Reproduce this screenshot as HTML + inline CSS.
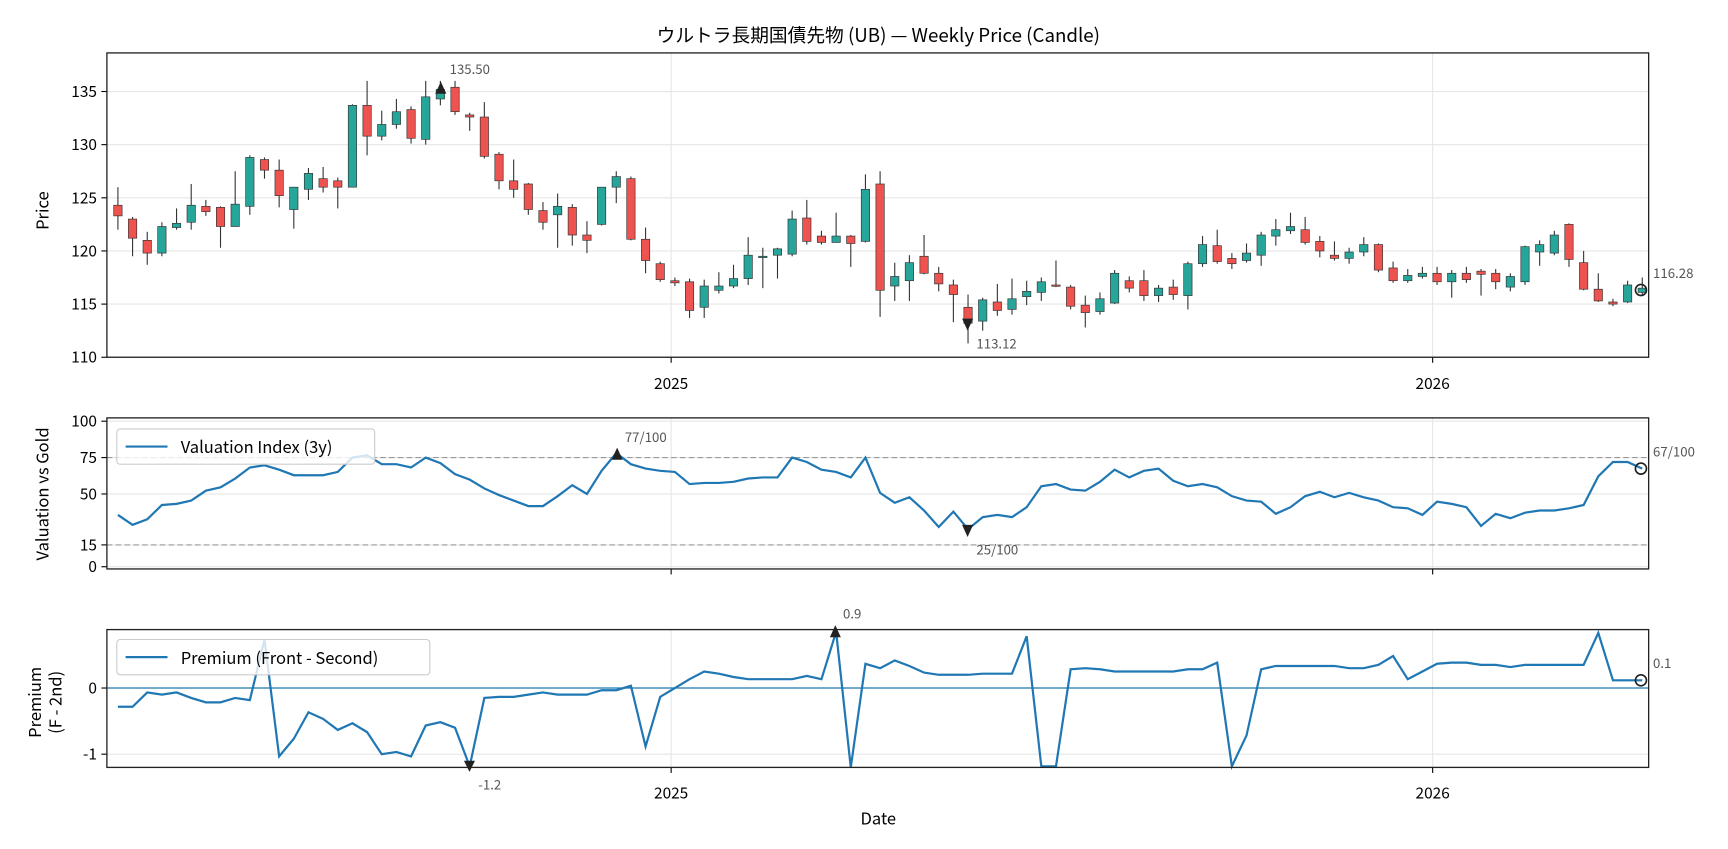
<!DOCTYPE html>
<html><head><meta charset="utf-8"><style>
html,body{margin:0;padding:0;background:#fff}
svg{display:block}
text{font-family:"Noto Sans CJK JP","IPAGothic",sans-serif}
</style></head><body>
<svg id="c" width="1728" height="849" viewBox="0 0 1568 770" preserveAspectRatio="none" xmlns="http://www.w3.org/2000/svg"></svg>
<script>
const S=document.getElementById('c');let h='';
const F='';
function X(i){return 107+13.3*i;}
const P1={x0:97,x1:1496,y0:48,y1:324},P2={y0:379,y1:516},P3={y0:571,y1:696};
function py(p){return 324-(p-110)*9.64;}
function vy(v){return 514-v*1.32;}
[110,115,120,125,130,135].forEach(v=>{h+=`<line x1="97" x2="1496" y1="${py(v)}" y2="${py(v)}" stroke="#e6e6e6"/>`;h+=`<line x1="92" x2="97" y1="${py(v)}" y2="${py(v)}" stroke="#000"/><text x="88" y="${py(v)+5}" font-size="14" text-anchor="end" ${F}>${v}</text>`;});
[0,15,50,75,100].forEach(v=>{h+=`<line x1="97" x2="1496" y1="${vy(v)}" y2="${vy(v)}" stroke="#e6e6e6"/><line x1="92" x2="97" y1="${vy(v)}" y2="${vy(v)}" stroke="#000"/><text x="88" y="${vy(v)+5}" font-size="14" text-anchor="end" ${F}>${v}</text>`;});
[[0,624],[-1,684]].forEach(([v,y])=>{h+=`<line x1="97" x2="1496" y1="${y}" y2="${y}" stroke="#e6e6e6"/><line x1="92" x2="97" y1="${y}" y2="${y}" stroke="#000"/><text x="88" y="${y+5}" font-size="14" text-anchor="end" ${F}>${v}</text>`;});
[[P1.y0,P1.y1],[P2.y0,P2.y1],[P3.y0,P3.y1]].forEach(([a,b],k)=>{[609,1300].forEach(x=>{h+=`<line x1="${x}" x2="${x}" y1="${a}" y2="${b}" stroke="#e6e6e6"/><line x1="${x}" x2="${x}" y1="${b}" y2="${b+5}" stroke="#000"/>`;});});
[[609,'2025'],[1300,'2026']].forEach(([x,t])=>{h+=`<text x="${x}" y="353" font-size="14" text-anchor="middle" ${F}>${t}</text><text x="${x}" y="724" font-size="14" text-anchor="middle" ${F}>${t}</text>`;});
h+=`<line x1="97" x2="1496" y1="${vy(75)}" y2="${vy(75)}" stroke="#999" stroke-dasharray="5,3"/><line x1="97" x2="1496" y1="${vy(15)}" y2="${vy(15)}" stroke="#999" stroke-dasharray="5,3"/>`;
const C=[[124.3,123.3,126,122],[123,121.2,123.2,119.5],[121,119.8,121.8,118.7],[119.8,122.3,122.7,119.5],[122.2,122.6,124,122],[122.7,124.3,126.3,122],[124.2,123.7,124.8,123.3],[124.1,122.3,124.2,120.3],[122.3,124.4,127.5,122.3],[124.2,128.8,129,123.4],[128.6,127.6,128.8,126.8],[127.6,125.2,128.6,124.1],[123.9,126,126,122.1],[125.8,127.3,127.8,124.8],[126.8,126,127.9,125.5],[126.6,126,126.9,124],[126,133.7,133.8,126],[133.7,130.8,136,129],[130.8,131.9,133.2,130.4],[131.9,133.1,134.3,131.5],[133.3,130.6,133.6,130.1],[130.5,134.5,136,130],[134.3,135.2,136,133.7],[135.4,133.1,136,132.8],[132.8,132.6,133,131.3],[132.6,128.9,134,128.7],[129.1,126.6,129.3,125.8],[126.6,125.8,128.6,125],[126.3,123.9,126.4,123.4],[123.8,122.7,124.6,122],[123.4,124.2,125.4,120.3],[124.1,121.5,124.4,120.5],[121.5,121,122.8,119.8],[122.5,126,126,122.4],[126,127,127.5,124.5],[126.8,121.1,127,121],[121.1,119.1,122.2,117.9],[118.8,117.3,119,117.1],[117.2,117,117.5,116.7],[117.1,114.4,117.4,113.7],[114.7,116.7,117.3,113.7],[116.3,116.7,118,116],[116.7,117.4,118.7,116.5],[117.4,119.6,121.3,116.8],[119.4,119.5,120.3,116.5],[119.6,120.2,120.3,117.4],[119.7,123,123.8,119.5],[123.1,120.9,124.8,120.6],[121.4,120.8,121.9,120.6],[120.8,121.4,123.6,120.8],[121.4,120.7,121.5,118.5],[120.9,125.8,127.2,120.8],[126.3,116.3,127.5,113.8],[116.7,117.6,118.9,115.3],[117.2,118.9,119.6,115.3],[119.5,117.9,121.5,117.8],[117.9,116.9,118.5,116.2],[116.8,115.9,117.3,113.3],[114.7,113.2,115.9,111.3],[113.4,115.4,115.6,112.5],[115.2,114.4,116.9,113.9],[114.5,115.5,117.4,114],[115.7,116.2,117.2,114.9],[116.1,117.1,117.5,115.3],[116.8,116.7,119.1,116.6],[116.6,114.8,116.8,114.5],[114.9,114.2,115.8,112.8],[114.3,115.5,116.1,114],[115.1,117.9,118.2,115],[117.2,116.5,117.6,116.1],[117.2,115.8,118.2,115.3],[115.8,116.5,116.8,115.2],[116.6,115.9,117.3,115.4],[115.8,118.8,119,114.5],[118.8,120.6,121.4,118.5],[120.5,119,122,118.8],[119.3,118.8,119.8,118.3],[119.1,119.8,120.7,118.9],[119.6,121.5,121.8,118.6],[121.4,122,123,120.5],[121.9,122.3,123.6,121.6],[122,120.8,123.2,120.6],[120.9,120,121.4,119.4],[119.6,119.3,120.9,119.1],[119.3,119.9,120.3,118.8],[119.9,120.6,121.3,119.5],[120.6,118.2,120.7,118],[118.4,117.2,119,117],[117.2,117.7,118.3,117],[117.6,117.9,118.5,117.4],[117.9,117.1,118.5,116.8],[117.1,117.9,118.2,115.6],[117.9,117.3,118.5,117],[118.1,117.8,118.3,115.8],[117.9,117.1,118.3,116.4],[116.6,117.6,117.9,116.2],[117.1,120.4,120.5,116.8],[119.9,120.6,121,118.6],[119.8,121.5,121.9,119.6],[122.5,119.2,122.6,118.5],[118.9,116.4,120,116.3],[116.4,115.3,117.9,115.2],[115.2,115,115.5,114.8],[115.2,116.8,117.2,115.1],[116.1,116.5,117.5,115.8]];
C.forEach((c,i)=>{const x=X(i),[o,cl,hi,lo]=c,up=cl>=o,col=up?'#26a69a':'#ef5350';
h+=`<line x1="${x}" x2="${x}" y1="${py(hi)}" y2="${py(lo)}" stroke="#333" stroke-width="1"/>`;
const t=py(Math.max(o,cl)),b=py(Math.min(o,cl));h+=`<rect x="${x-3.8}" y="${t}" width="7.6" height="${Math.max(b-t,1.2)}" fill="${col}" stroke="#333" stroke-width="0.6"/>`;});
h+=`<path d="M395,85 L405,85 L400,74Z" fill="#222"/><text x="408" y="67" font-size="12" fill="#555" ${F}>135.50</text>`;
h+=`<path d="M873,289 L883,289 L878,300Z" fill="#222"/><text x="886" y="316" font-size="12" fill="#555" ${F}>113.12</text>`;
h+=`<circle cx="1489" cy="263" r="5" fill="none" stroke="#222" stroke-width="1.5"/><text x="1500" y="252" font-size="12" fill="#555" ${F}>116.28</text>`;
const V=[467,476,471,458,457,454,445,442,434,424,422,426,431,431,431,428,415,413,421,421,424,415,420,430,435,443,449,454,459,459,450,440,448,427,411,421,425,427,428,439,438,438,437,434,433,433,415,419,426,428,433,415,447,456,451,463,478,464,480,469,467,469,460,441,439,444,445,437,426,433,427,425,436,441,439,442,450,454,455,466,460,450,446,451,447,451,454,460,461,467,455,457,460,477,466,470,465,463,463,461,458,432,419,419,425];
h+=`<polyline fill="none" stroke="#1f77b4" stroke-width="2" points="${V.map((y,i)=>X(i)+','+y).join(' ')}"/>`;
h+=`<path d="M555,417 L565,417 L560,406Z" fill="#222"/><text x="567" y="401" font-size="12" fill="#555" ${F}>77/100</text>`;
h+=`<path d="M873,476 L883,476 L878,487Z" fill="#222"/><text x="886" y="503" font-size="12" fill="#555" ${F}>25/100</text>`;
h+=`<circle cx="1489" cy="425" r="5" fill="none" stroke="#222" stroke-width="1.5"/><text x="1500" y="414" font-size="12" fill="#555" ${F}>67/100</text>`;
const Q=[641,641,628,630,628,633,637,637,633,635,580,686,670,646,652,662,656,664,684,682,686,658,655,660,695,633,632,632,630,628,630,630,630,626,626,622,677,632,624,616,609,611,614,616,616,616,616,613,616,573,696,602,606,599,604,610,612,612,612,611,611,611,577,695,695,607,606,607,609,609,609,609,609,607,607,601,695,667,607,604,604,604,604,604,606,606,603,595,616,609,602,601,601,603,603,605,603,603,603,603,603,574,617,617,617];
h+=`<line x1="97" x2="1496" y1="624" y2="624" stroke="#1f77b4" stroke-width="1.2"/>`;
h+=`<polyline fill="none" stroke="#1f77b4" stroke-width="2" points="${Q.map((y,i)=>X(i)+','+y).join(' ')}"/>`;
h+=`<path d="M753,578 L763,578 L758,567Z" fill="#222"/><text x="765" y="561" font-size="12" fill="#555" ${F}>0.9</text>`;
h+=`<path d="M421,690 L431,690 L426,700Z" fill="#222"/><text x="434" y="716" font-size="12" fill="#555" ${F}>-1.2</text>`;
h+=`<circle cx="1489" cy="617" r="5" fill="none" stroke="#222" stroke-width="1.5"/><text x="1500" y="606" font-size="12" fill="#555" ${F}>0.1</text>`;
[[48,324],[379,516],[571,696]].forEach(([a,b])=>{h+=`<rect x="97" y="${a}" width="1399" height="${b-a}" fill="none" stroke="#222" stroke-width="1.2"/>`;});
h+=`<rect x="106" y="389" width="234" height="32" rx="3" fill="#fff" fill-opacity="0.8" stroke="#ccc"/><line x1="114" x2="152" y1="405" y2="405" stroke="#1f77b4" stroke-width="2"/><text x="164" y="411" font-size="15" ${F}>Valuation Index (3y)</text>`;
h+=`<rect x="106" y="580" width="284" height="32" rx="3" fill="#fff" fill-opacity="0.8" stroke="#ccc"/><line x1="114" x2="152" y1="596" y2="596" stroke="#1f77b4" stroke-width="2"/><text x="164" y="602" font-size="15" ${F}>Premium (Front - Second)</text>`;
h+=`<text x="797" y="38" font-size="17" text-anchor="middle" ${F}>ウルトラ長期国債先物 (UB) — Weekly Price (Candle)</text>`;
h+=`<text transform="translate(44,191) rotate(-90)" font-size="15" text-anchor="middle" ${F}>Price</text>`;
h+=`<text transform="translate(44,448) rotate(-90)" font-size="15" text-anchor="middle" ${F}>Valuation vs Gold</text>`;
h+=`<text transform="translate(37,637) rotate(-90)" font-size="15" text-anchor="middle" ${F}>Premium</text>`;
h+=`<text transform="translate(56,637) rotate(-90)" font-size="15" text-anchor="middle" ${F}>(F - 2nd)</text>`;
h+=`<text x="797" y="748" font-size="15" text-anchor="middle" ${F}>Date</text>`;
S.innerHTML=h;
</script>
</body></html>
